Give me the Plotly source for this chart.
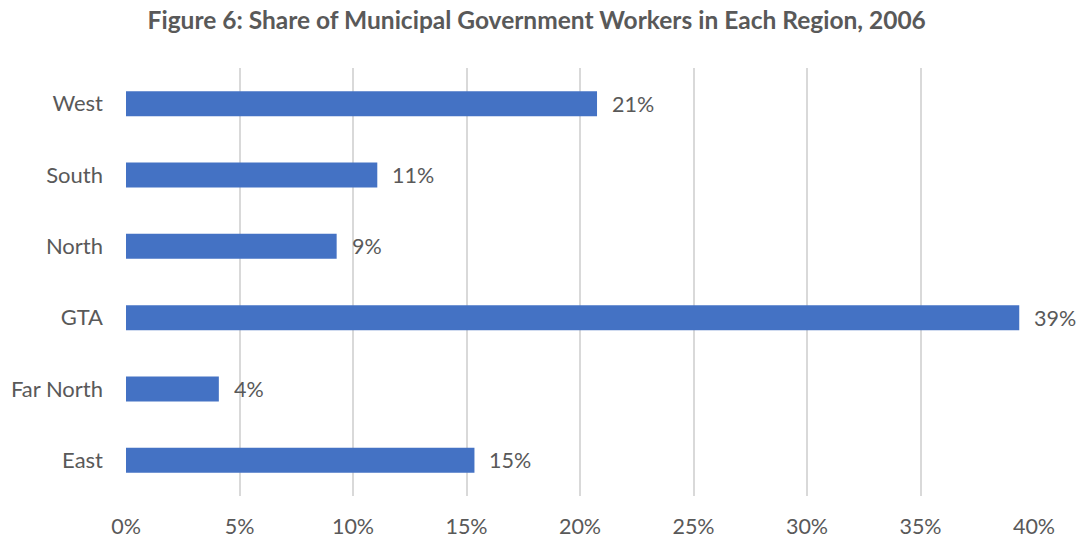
import plotly.graph_objects as go

# Regions listed bottom-to-top (Plotly draws the first category at the bottom)
regions = ["East", "Far North", "GTA", "North", "South", "West"]
shares = [0.1535, 0.0409, 0.3935, 0.0928, 0.1107, 0.2075]
tick_vals = [0, 0.05, 0.10, 0.15, 0.20, 0.25, 0.30, 0.35, 0.40]
tick_text = ["0%", "5%", "10%", "15%", "20%", "25%", "30%", "35%", "40%"]

TEXT = "#595959"
FONT = "Lato"

fig = go.Figure(
    go.Bar(
        x=shares,
        y=regions,
        orientation="h",
        marker=dict(color="#4472C4", line=dict(width=0)),
        width=0.35,
    )
)

# value labels to the right of each bar
for r, v in zip(regions, shares):
    fig.add_annotation(
        x=v, y=r, text=f"{round(v * 100):.0f}%",
        xanchor="left", yanchor="middle", xshift=13, showarrow=False,
        font=dict(family=FONT, size=21.5, color=TEXT),
    )

fig.update_layout(
    width=1081,
    height=539,
    margin=dict(l=126, r=47, t=68, b=43, autoexpand=False),
    paper_bgcolor="white",
    plot_bgcolor="white",
    showlegend=False,
    title=dict(
        text="<b>Figure 6: Share of Municipal Government Workers in Each Region, 2006</b>",
        x=0.4965, xanchor="center", y=0.962, yanchor="middle",
        font=dict(family=FONT, size=24.5, color=TEXT),
    ),
    xaxis=dict(
        range=[0, 0.40],
        tickvals=tick_vals,
        ticktext=tick_text,
        showgrid=True,
        gridcolor="#d9d9d9",
        gridwidth=1.5,
        zeroline=False,
        showline=False,
        ticks="",
        automargin=False,
        ticklabelstandoff=15,
        tickfont=dict(family=FONT, size=21.5, color=TEXT),
    ),
    yaxis=dict(
        showgrid=False,
        zeroline=False,
        showline=False,
        ticks="",
        automargin=False,
        ticklabelstandoff=22,
        tickfont=dict(family=FONT, size=22, color=TEXT),
    ),
)

fig.write_html("out.html")
